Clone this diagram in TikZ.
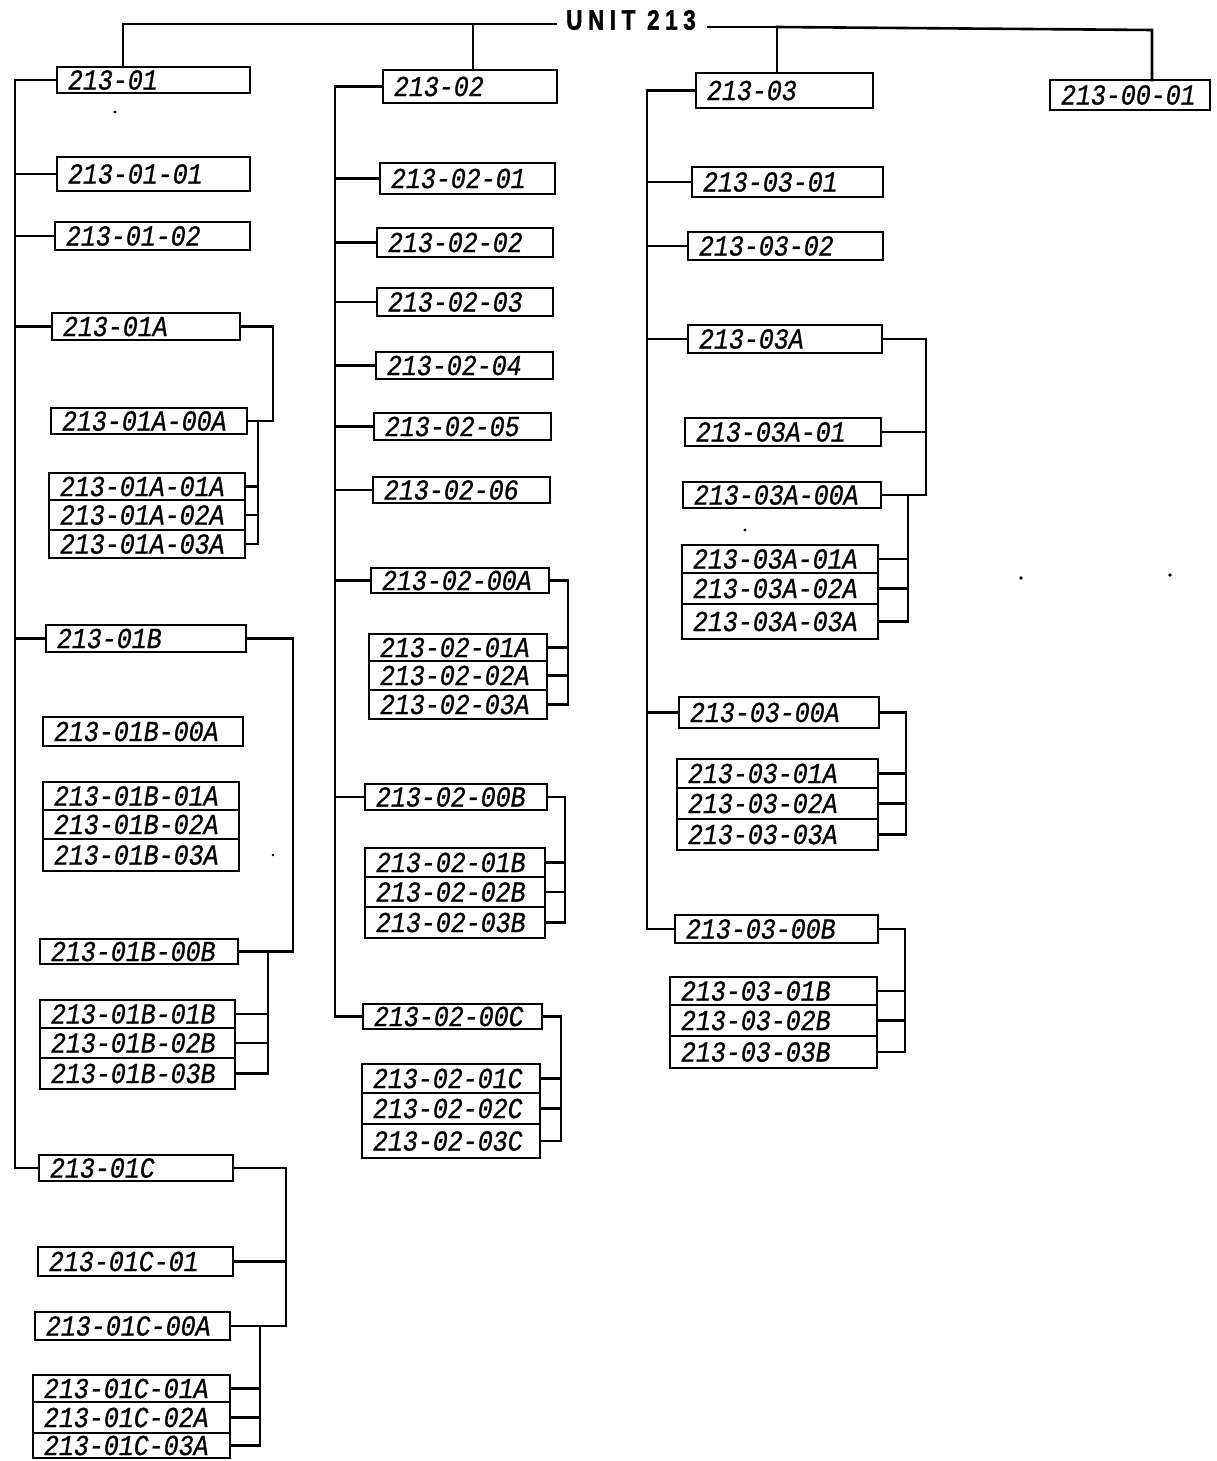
\documentclass[tikz,border=0pt]{standalone}
\usepackage{fontspec}
\newfontfamily\lblfont{Liberation Mono}[FakeStretch=0.86,FakeBold=0.8]
\newfontfamily\titlefont{Liberation Sans Bold}[FakeStretch=0.8,LetterSpace=20,FakeBold=1.5]
\tikzset{
  bx/.style={draw, line width=2.6pt, rectangle, inner sep=0pt, outer sep=0pt},
  lbl/.style={inner sep=0pt, outer sep=0pt, font=\lblfont\itshape\fontsize{29}{30}\selectfont},
  ln/.style={line width=2.6pt, line cap=rect},
  speck/.style={fill=black, draw=none}
}
\newcommand\bx[6]{%
  \node[bx, minimum width={(#4-#2)*1pt}, minimum height={(#5-#3)*1pt}] (#1) at ({(#2+#4)/2},{(#3+#5)/2}) {};
  \node[lbl, anchor=west] (#1t) at ([xshift=11pt]#1.west) {#6};}
\begin{document}
\begin{tikzpicture}[x=1pt,y=-1pt]
\useasboundingbox (0,0) rectangle (1217,1461);
\fill[white] (0,0) rectangle (1217,1461);

% title
\node[font=\titlefont\fontsize{28}{30}\selectfont, inner sep=0pt] (title) at (631,20) {UNIT 213};

% ---------- column 1 ----------
\bx{c1a}{57}{67}{250}{93}{213-01}
\bx{c1b}{57}{157}{250}{191}{213-01-01}
\bx{c1c}{55}{222}{250}{250}{213-01-02}
\bx{c1d}{52}{313}{240}{340}{213-01A}
\bx{c1e}{51}{408}{247}{434}{213-01A-00A}
\bx{c1f}{49}{473}{245}{500}{213-01A-01A}
\bx{c1g}{49}{500}{245}{530}{213-01A-02A}
\bx{c1h}{49}{530}{245}{558}{213-01A-03A}
\bx{c1i}{46}{625}{246}{652}{213-01B}
\bx{c1j}{43}{717}{243}{746}{213-01B-00A}
\bx{c1k}{43}{782}{239}{810}{213-01B-01A}
\bx{c1l}{43}{810}{239}{839}{213-01B-02A}
\bx{c1m}{43}{839}{239}{871}{213-01B-03A}
\bx{c1n}{40}{939}{238}{964}{213-01B-00B}
\bx{c1o}{40}{1000}{235}{1028}{213-01B-01B}
\bx{c1p}{40}{1028}{235}{1058}{213-01B-02B}
\bx{c1q}{40}{1058}{235}{1089}{213-01B-03B}
\bx{c1r}{39}{1155}{233}{1181}{213-01C}
\bx{c1s}{38}{1247}{233}{1276}{213-01C-01}
\bx{c1t}{35}{1312}{230}{1340}{213-01C-00A}
\bx{c1u}{33}{1375}{230}{1402}{213-01C-01A}
\bx{c1v}{33}{1402}{230}{1433}{213-01C-02A}
\bx{c1w}{33}{1433}{230}{1458}{213-01C-03A}

% ---------- column 2 ----------
\bx{c2a}{383}{70}{557}{103}{213-02}
\bx{c2b}{380}{163}{555}{194}{213-02-01}
\bx{c2c}{377}{228}{553}{257}{213-02-02}
\bx{c2d}{377}{288}{553}{316}{213-02-03}
\bx{c2e}{376}{352}{553}{379}{213-02-04}
\bx{c2f}{374}{413}{551}{440}{213-02-05}
\bx{c2g}{373}{477}{550}{503}{213-02-06}
\bx{c2h}{371}{568}{549}{593}{213-02-00A}
\bx{c2i}{369}{634}{547}{661}{213-02-01A}
\bx{c2j}{369}{661}{547}{690}{213-02-02A}
\bx{c2k}{369}{690}{547}{719}{213-02-03A}
\bx{c2l}{365}{784}{547}{810}{213-02-00B}
\bx{c2m}{365}{848}{545}{877}{213-02-01B}
\bx{c2n}{365}{877}{545}{907}{213-02-02B}
\bx{c2o}{365}{907}{545}{938}{213-02-03B}
\bx{c2p}{363}{1004}{542}{1029}{213-02-00C}
\bx{c2q}{362}{1064}{540}{1093}{213-02-01C}
\bx{c2r}{362}{1093}{540}{1124}{213-02-02C}
\bx{c2s}{362}{1124}{540}{1158}{213-02-03C}

% ---------- column 3 ----------
\bx{c3a}{696}{73}{873}{108}{213-03}
\bx{c3b}{692}{167}{883}{197}{213-03-01}
\bx{c3c}{688}{232}{883}{260}{213-03-02}
\bx{c3d}{688}{325}{882}{353}{213-03A}
\bx{c3e}{685}{418}{881}{446}{213-03A-01}
\bx{c3f}{683}{482}{881}{508}{213-03A-00A}
\bx{c3g}{682}{545}{878}{573}{213-03A-01A}
\bx{c3h}{682}{573}{878}{604}{213-03A-02A}
\bx{c3i}{682}{604}{878}{639}{213-03A-03A}
\bx{c3j}{679}{697}{879}{728}{213-03-00A}
\bx{c3k}{677}{759}{878}{788}{213-03-01A}
\bx{c3l}{677}{788}{878}{819}{213-03-02A}
\bx{c3m}{677}{819}{878}{850}{213-03-03A}
\bx{c3n}{675}{915}{878}{943}{213-03-00B}
\bx{c3o}{670}{977}{877}{1005}{213-03-01B}
\bx{c3p}{670}{1005}{877}{1036}{213-03-02B}
\bx{c3q}{670}{1036}{877}{1068}{213-03-03B}

% ---------- column 4 ----------
\bx{c4a}{1050}{80}{1210}{110}{213-00-01}

% ---------- top connectors ----------
\coordinate (j1) at (123,24);
\coordinate (j2) at (473,24);
\coordinate (j3) at (777,27);
\coordinate (j4) at (1152,30);
\draw[ln] ([xshift=-10pt]title.west |- j1) -- (j1) -- (j1 |- c1a.north);
\draw[ln] (j2) -- (j2 |- c2a.north);
\draw[ln] ([xshift=12pt]title.east |- j3) -- (j3) -- (j3 |- c3a.north);
\draw[ln] (j3) -- (j4) -- (j4 |- c4a.north);

% ---------- spines ----------
\coordinate (s1) at (15,0);
\coordinate (s2) at (335,0);
\coordinate (s3) at (647,0);
\draw[ln] (c1a.west -| s1) -- (c1r.west -| s1);
\foreach \n in {c1a,c1b,c1c,c1d,c1i,c1r} \draw[ln] (\n.west) -- (\n.west -| s1);
\draw[ln] (c2a.west -| s2) -- (c2p.west -| s2);
\foreach \n in {c2a,c2b,c2c,c2d,c2e,c2f,c2g,c2h,c2l,c2p} \draw[ln] (\n.west) -- (\n.west -| s2);
\draw[ln] (c3a.west -| s3) -- (c3n.west -| s3);
\foreach \n in {c3a,c3b,c3c,c3d,c3j,c3n} \draw[ln] (\n.west) -- (\n.west -| s3);

% ---------- right brackets ----------
% 213-01A
\coordinate (b1) at (273,0);
\draw[ln] (c1d.east) -- (c1d.east -| b1) |- (c1e.east);
\coordinate (v1) at (258,0);
\draw[ln] (c1e.east -| v1) |- (c1h.east);
\foreach \n in {c1f,c1g} \draw[ln] (\n.east) -- (\n.east -| v1);
% 213-01B
\coordinate (b2) at (293,0);
\draw[ln] (c1i.east) -- (c1i.east -| b2) |- (c1n.east);
\coordinate (v2) at (268,0);
\draw[ln] (c1n.east -| v2) |- (c1q.east);
\foreach \n in {c1o,c1p} \draw[ln] (\n.east) -- (\n.east -| v2);
% 213-01C
\coordinate (b3) at (286,0);
\draw[ln] (c1r.east) -- (c1r.east -| b3) |- (c1t.east);
\draw[ln] (c1s.east) -- (c1s.east -| b3);
\coordinate (v3) at (260,0);
\draw[ln] (c1t.east -| v3) |- (c1w.east);
\foreach \n in {c1u,c1v} \draw[ln] (\n.east) -- (\n.east -| v3);
% 213-02-00A
\coordinate (b4) at (568,0);
\draw[ln] (c2h.east) -- (c2h.east -| b4) |- (c2k.east);
\foreach \n in {c2i,c2j} \draw[ln] (\n.east) -- (\n.east -| b4);
% 213-02-00B
\coordinate (b5) at (565,0);
\draw[ln] (c2l.east) -- (c2l.east -| b5) |- (c2o.east);
\foreach \n in {c2m,c2n} \draw[ln] (\n.east) -- (\n.east -| b5);
% 213-02-00C
\coordinate (b6) at (561,0);
\draw[ln] (c2p.east) -- (c2p.east -| b6) |- (c2s.east);
\foreach \n in {c2q,c2r} \draw[ln] (\n.east) -- (\n.east -| b6);
% 213-03A
\coordinate (b7) at (926,0);
\draw[ln] (c3d.east) -- (c3d.east -| b7) |- (c3f.east);
\draw[ln] (c3e.east) -- (c3e.east -| b7);
\coordinate (v7) at (908,0);
\draw[ln] (c3f.east -| v7) |- (c3i.east);
\foreach \n in {c3g,c3h} \draw[ln] (\n.east) -- (\n.east -| v7);
% 213-03-00A
\coordinate (b8) at (906,0);
\draw[ln] (c3j.east) -- (c3j.east -| b8) |- (c3m.east);
\foreach \n in {c3k,c3l} \draw[ln] (\n.east) -- (\n.east -| b8);
% 213-03-00B
\coordinate (b9) at (905,0);
\draw[ln] (c3n.east) -- (c3n.east -| b9) |- (c3q.east);
\foreach \n in {c3o,c3p} \draw[ln] (\n.east) -- (\n.east -| b9);

% ---------- specks ----------
\fill[speck] (115,112) circle (1.6);
\fill[speck] (745,530) circle (1.6);
\fill[speck] (273,855) circle (1.4);
\fill[speck] (1021,578) circle (1.8);
\fill[speck] (1170,575) circle (1.8);
\end{tikzpicture}
\end{document}
